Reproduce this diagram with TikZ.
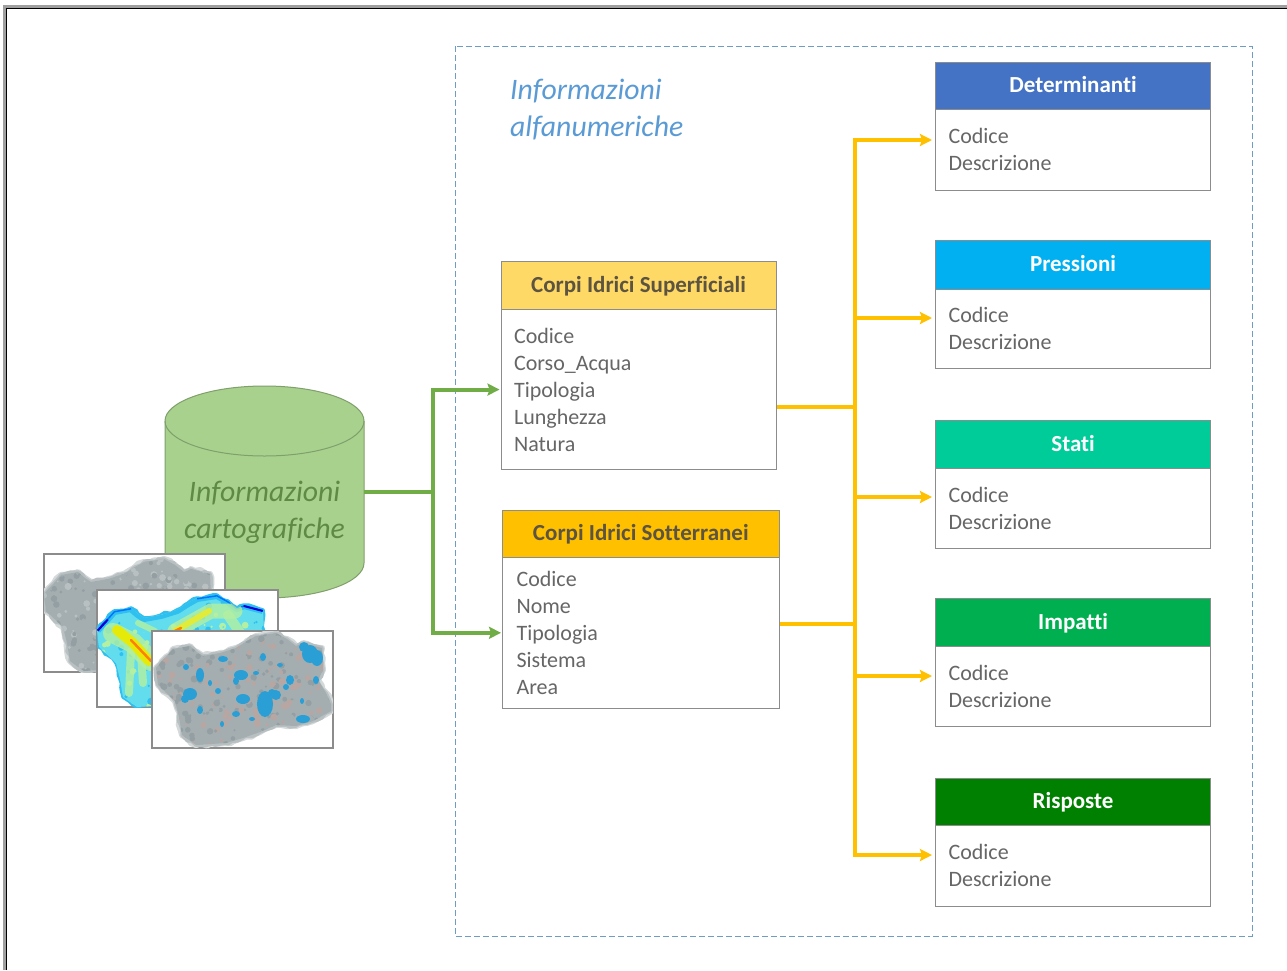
\documentclass[tikz,border=0pt]{standalone}
\usepackage{fontspec}
\setmainfont{Carlito}[Ligatures=CommonOff]
\usetikzlibrary{arrows.meta,decorations.pathmorphing}
\definecolor{borderG}{HTML}{8C8C8C}
\definecolor{txtG}{HTML}{666666}
\definecolor{hdrDark}{HTML}{5C5440}
\definecolor{cDet}{HTML}{4472C4}
\definecolor{cPre}{HTML}{00B0F0}
\definecolor{cSta}{HTML}{00CC99}
\definecolor{cImp}{HTML}{00B050}
\definecolor{cRis}{HTML}{008000}
\definecolor{cSup}{HTML}{FFD966}
\definecolor{cSot}{HTML}{FFC000}
\definecolor{cylF}{HTML}{A9D18E}
\definecolor{cylL}{HTML}{7F9F6B}
\definecolor{cylT}{HTML}{5E8A46}
\definecolor{lnG}{HTML}{70AD47}
\definecolor{lnO}{HTML}{FFC000}
\definecolor{dashB}{HTML}{6F9CC4}
\definecolor{titleB}{HTML}{5B9BD5}
\definecolor{mapA}{HTML}{A4AEB1}
\definecolor{mapB}{HTML}{939FA3}
\definecolor{mapC}{HTML}{B8C0C2}
\definecolor{mapP}{HTML}{B8A6A2}
\definecolor{mapW}{HTML}{2A9FD6}
\definecolor{hueA}{HTML}{62DDEE}
\definecolor{hueB}{HTML}{B4F0A0}
\definecolor{hueC}{HTML}{2FC0F0}
\tikzset{
  hdrbox/.style={draw=borderG,line width=1.1pt,anchor=north west,minimum height=#1,inner sep=0pt,text height=16pt,text depth=2pt,font=\fontsize{23}{27}\selectfont\bfseries},
  bodybox/.style={draw=borderG,line width=1.1pt,fill=white,anchor=north west,minimum height=#1,inner sep=0pt,align=left,text=txtG,font=\fontsize{22}{27}\selectfont},
  titletext/.style={font=\fontsize{29.7}{37}\selectfont\itshape,align=left,inner sep=0pt},
  greenline/.style={draw=lnG,line width=4pt},
  orangeline/.style={draw=lnO,line width=3.6pt},
  greenarrow/.style={greenline,-{Stealth[length=12pt,width=12pt,inset=2pt]},shorten >=1pt},
  orangearrow/.style={orangeline,-{Stealth[length=12pt,width=12pt,inset=2pt]},shorten >=4pt},
  mapframe/.style={draw=borderG,line width=1.2pt,fill=white},
  bump/.style={line width=#1,line join=round,line cap=round,decorate,decoration={random steps,segment length=5pt,amplitude=1.6pt}},
}
\newcommand{\mapshape}{(4,37) -- (10,30) -- (14,26) -- (21,18) -- (38,15) -- (45,21) -- (51,25) -- (68,22) -- (84,17) -- (95,10) -- (104,5) -- (124,2) -- (135,8) -- (144,15) -- (151,12) -- (170,17) -- (171,39) -- (166,49) -- (174,62) -- (179,73) -- (179,80) -- (161,90) -- (144,95) -- (124,94) -- (108,101) -- (91,107) -- (74,112) -- (44,114) -- (30,104) -- (27,86) -- (23,70) -- (6,54) -- cycle}
\newcommand{\maptexture}[4]{%
  \foreach \i in {1,...,#1}{%
    \pgfmathsetmacro{\qx}{rnd*181}\pgfmathsetmacro{\qy}{rnd*118}\pgfmathsetmacro{\qr}{1+rnd*2.6}%
    \pgfmathtruncatemacro{\qc}{int(rnd*3)}%
    \ifcase\qc\fill[#2] (\qx,\qy) circle (\qr);\or\fill[#3] (\qx,\qy) circle (\qr);\else\fill[#4] (\qx,\qy) circle (\qr);\fi
  }%
}
\begin{document}
\begin{tikzpicture}[x=1pt,y=-1pt]
\useasboundingbox (0,0) rectangle (1287,970);
\fill[white] (0,0) rectangle (1287,970);
% outer frame
\draw[gray!75,line width=2.4pt] (4.5,970) -- (4.5,6.5) -- (1287,6.5);
\draw[black,line width=1.6pt] (6.5,970) -- (6.5,8.3) -- (1287,8.3);
% dashed region
\draw[dashB,line width=1pt,dash pattern=on 6pt off 3pt] (455,46) rectangle (1252,936);
\node[titletext,text=titleB,anchor=north west] (alfa) at (510,78.5) {Informazioni\\alfanumeriche};
% cylinder
\filldraw[fill=cylF,draw=cylL,line width=1pt] (165,421) -- (165,563) arc[start angle=180,end angle=360,x radius=99.5,y radius=-35] -- (364,421) arc[start angle=0,end angle=180,x radius=99.5,y radius=-35] -- cycle;
\draw[cylL,line width=1pt] (165,421) arc[start angle=180,end angle=360,x radius=99.5,y radius=-35];
\node[minimum width=199pt,minimum height=108pt,inner sep=0pt,anchor=center] (cyl) at (264.5,492) {};
\node[titletext,align=center,text=cylT,anchor=center] (cylt) at (264.5,512) {Informazioni\\cartografiche};
% map 1
\begin{scope}[shift={(44,554)}]
  \path[mapframe] (0,0) rectangle (181,118);
  \begin{scope}
    \clip (0,0) rectangle (181,118);
    \begin{scope}[shift={(-4,3)}]
      \pgfmathsetseed{3}
      \draw[mapC!60!white,bump=6pt] \mapshape;
      \draw[mapC,bump=3.5pt] \mapshape;
      \fill[mapA] \mapshape;
      \begin{scope}
        \clip \mapshape;
        \pgfmathsetseed{11}
        \maptexture{420}{mapA}{mapB}{mapC}
      \end{scope}
    \end{scope}
  \end{scope}
\end{scope}
% map 2
\begin{scope}[shift={(97,590)}]
  \path[mapframe] (0,0) rectangle (181,117);
  \begin{scope}
    \clip (0,0) rectangle (181,117);
    \begin{scope}[shift={(-4,3)}]
      \pgfmathsetseed{8}
      \draw[hueC,bump=3.5pt] \mapshape;
      \fill[hueA] \mapshape;
      \begin{scope}
        \clip \mapshape;
        \pgfmathsetseed{5}
        \maptexture{260}{hueA}{hueB}{hueC}
        \draw[hueC,line width=8pt,line join=round] (4,37) -- (10,30) -- (14,26) -- (21,18) -- (38,15) -- (45,21) -- (51,25) -- (68,22) -- (84,17) -- (95,10) -- (104,5) -- (124,2) -- (135,8) -- (144,15) -- (151,12) -- (170,17);
        \draw[blue!55!cyan,line width=3pt,line join=round] (4,37) -- (14,26) -- (21,18) -- (38,15);
        \draw[blue!55!cyan,line width=3pt,line join=round] (104,5) -- (124,2) -- (135,8) -- (144,15) -- (151,12) -- (170,17);
        \draw[blue!85!black,line width=4pt] (4,37) -- (14,26);
        \draw[blue!85!black,line width=4pt] (151,12) -- (170,17);
        \draw[hueB,line width=20pt,line cap=round,opacity=.8] (20,40) -- (40,50) -- (58,68);
        \draw[hueB,line width=8pt,line cap=round,opacity=.8] (38,58) -- (36,100);
        \draw[hueB,line width=8pt,line cap=round,opacity=.8] (48,60) -- (50,90);
        \draw[hueB,line width=15pt,line cap=round,opacity=.8] (82,38) -- (118,18) -- (142,18);
        \draw[hueB,line width=10pt,line cap=round,opacity=.8] (135,22) -- (150,44);
        \draw[hueB,line width=6pt,line cap=round,opacity=.8] (45,30) -- (62,38);
        \draw[yellow!90!green,line width=10pt,line cap=round] (24,37) -- (40,50) -- (56,68);
        \draw[yellow!85!green!80!white,line width=6pt,line cap=round] (82,38) -- (116,18);
        \draw[orange,line width=2.5pt,line cap=round] (38,47) -- (58,68);
        \draw[orange,line width=2.5pt,line cap=round] (80,39) -- (88,35);
      \end{scope}
    \end{scope}
  \end{scope}
\end{scope}
% map 3
\begin{scope}[shift={(152,631)}]
  \path[mapframe] (0,0) rectangle (181,117);
  \begin{scope}
    \clip (0,0) rectangle (181,117);
    \pgfmathsetseed{17}
    \draw[mapC!60!white,bump=6pt] \mapshape;
    \draw[mapC,bump=3.5pt] \mapshape;
    \fill[mapA] \mapshape;
    \begin{scope}
      \clip \mapshape;
      \pgfmathsetseed{29}
      \maptexture{480}{mapA}{mapB}{mapP}
    \end{scope}
    \foreach \qx/\qy/\qa/\qb in {158/23/8/9, 165/27/6/8, 152/16/5/5, 38/63/7/6, 33/68/4/4, 48/44/4/7, 89/44/7/5, 84/50/3/4, 113/73/8/13, 120/62/4/4, 91/68/7/5, 151/88/7/4, 124/64/5/5, 48/79/3/4, 138/49/4/5, 134/56/3/3, 164/49/3/4, 111/26/3/4, 71/28/5/3, 34/36/3/3, 84/83/4/3, 66/60/3/3, 100/88/3/2, 58/52/2/3, 128/34/3/2, 150/70/2/3, 70/93/2/3, 104/42/3/2}{
      \fill[mapW] (\qx,\qy) ellipse[x radius=\qa,y radius=\qb];
    }
  \end{scope}
\end{scope}
% left-hand tables
\node[bodybox=160pt,minimum width=275pt,text width=275pt] (supB) at (500.5,309) {\hspace*{13pt}Codice\\\hspace*{13pt}Corso\_Acqua\\\hspace*{13pt}Tipologia\\\hspace*{13pt}Lunghezza\\\hspace*{13pt}Natura};
\node[hdrbox=48pt,minimum width=275pt,fill=cSup,text=hdrDark] (supH) at (500.5,261) {Corpi Idrici Superficiali};
\node[bodybox=150.5pt,minimum width=276.5pt,text width=276.5pt] (sotB) at (502,557) {\hspace*{14pt}Codice\\\hspace*{14pt}Nome\\\hspace*{14pt}Tipologia\\\hspace*{14pt}Sistema\\\hspace*{14pt}Area};
\node[hdrbox=47.5pt,minimum width=276.5pt,fill=cSot,text=hdrDark] (sotH) at (502,509.5) {Corpi Idrici Sotterranei};
% right-hand tables
\foreach \nm/\lbl/\col/\top/\mid/\hh/\bh in {det/Determinanti/cDet/61.5/108.5/47/81, pre/Pressioni/cPre/240/288.5/48.5/79, sta/Stati/cSta/419.5/467.5/48/80, imp/Impatti/cImp/598/645.5/47.5/80, ris/Risposte/cRis/777.5/824.5/47/81}{
  \node[bodybox=\bh pt,minimum width=274.4pt,text width=274.4pt] (\nm B) at (935.3,\mid) {\hspace*{12.7pt}Codice\\\hspace*{12.7pt}Descrizione};
  \node[hdrbox=\hh pt,minimum width=274.4pt,fill=\col,text=white] (\nm H) at (935.3,\top) {\lbl};
}
% green connectors
\coordinate (gj) at (433,492);
\draw[greenline] (cyl.east) -- (gj);
\draw[greenarrow] (gj) |- (supB.west);
\draw[greenarrow] (gj) |- (sotB.west);
% orange connectors
\coordinate (tj1) at (855,407);
\coordinate (tj2) at (855,624);
\coordinate (tTop) at (855,140);
\coordinate (aDet) at (936,140);
\coordinate (aPre) at (936,318);
\coordinate (aSta) at (936,497);
\coordinate (aImp) at (936,676);
\coordinate (aRis) at (936,855);
\draw[orangeline] (supB.east |- tj1) -- (tj1);
\draw[orangeline] (sotB.east |- tj2) -- (tj2);
\draw[orangearrow] (aRis -| tj1) -- (aRis);
\draw[orangeline,line cap=rect] (aRis -| tj1) -- (tTop);
\draw[orangearrow] (tTop) -- (aDet);
\draw[orangearrow] (aPre -| tj1) -- (aPre);
\draw[orangearrow] (aSta -| tj1) -- (aSta);
\draw[orangearrow] (aImp -| tj1) -- (aImp);
\end{tikzpicture}
\end{document}
